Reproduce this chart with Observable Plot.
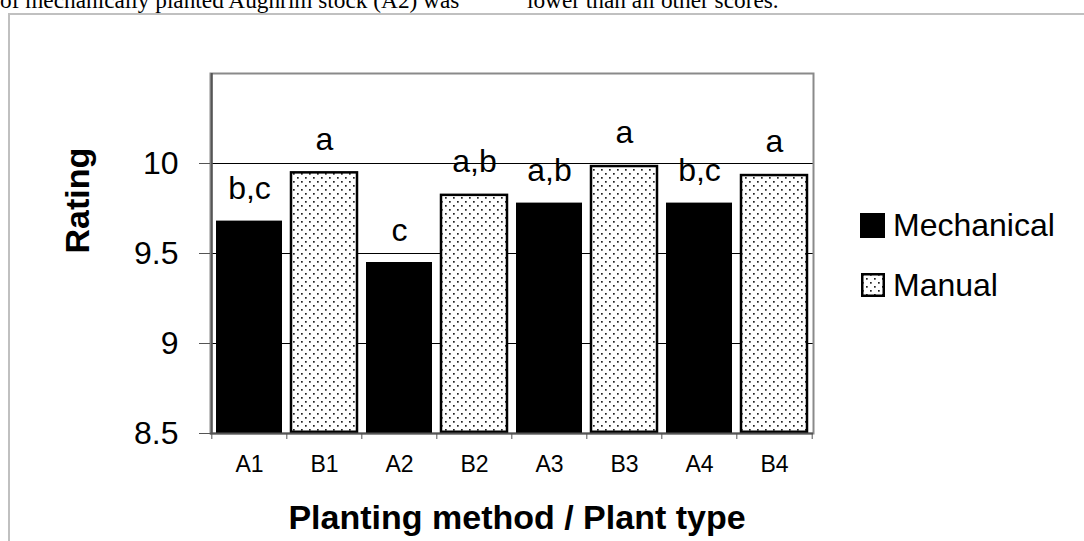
<!DOCTYPE html>
<html>
<head>
<meta charset="utf-8">
<script src="https://cdn.jsdelivr.net/npm/d3@7"></script>
<script src="https://cdn.jsdelivr.net/npm/@observablehq/plot@0.6"></script>
<style>
  html, body { margin: 0; padding: 0; background: #fff; }
  #page { position: relative; width: 1084px; height: 541px; overflow: hidden; background: #fff; }
  #toptext { position: absolute; top: -13px; left: 0; width: 1084px; font-family: "Liberation Serif", "Times New Roman", serif; font-size: 23.3px; color: #000; white-space: nowrap; }
  #toptext span { position: absolute; top: 0; }
  #border { position: absolute; left: 8px; top: 13px; width: 1200px; height: 700px; border: 2px solid #c0c0c0; box-sizing: border-box; }
  #chart { position: absolute; left: 0; top: 0; }
  .leg { position: absolute; font-family: "Liberation Sans", Arial, sans-serif; font-size: 32px; color: #000; line-height: 1; white-space: nowrap; }
</style>
</head>
<body>
<div id="page">
  <div id="toptext"><span style="left:0px">of mechanically planted Aughrim stock (A2) was</span><span style="left:527px">lower than all other scores.</span></div>
  <div id="border"></div>
  <div id="chart"></div>
  <div id="legend"></div>
</div>
<script>
// ---- data ----
const categories = ["A1", "B1", "A2", "B2", "A3", "B3", "A4", "B4"];
const methods = ["Mechanical", "Manual", "Mechanical", "Manual", "Mechanical", "Manual", "Mechanical", "Manual"];
const ratings = [9.68, 9.955, 9.45, 9.83, 9.78, 9.99, 9.78, 9.94];
const letters = ["b,c", "a", "c", "a,b", "a,b", "a", "b,c", "a"];
const seriesNames = ["Mechanical", "Manual"];
const yTicks = [8.5, 9, 9.5, 10];
const yDomain = [8.5, 10.5];
const yTitle = "Rating";
const xTitle = "Planting method / Plant type";

const data = categories.map((c, i) => ({cat: c, method: methods[i], rating: ratings[i], letter: letters[i]}));

// ---- layout ----
const W = 1084, H = 541;
const mL = 210, mR = 271, mT = 73, mB = 108;
const step = (W - mL - mR) / categories.length;
const base = yDomain[0];

const font = "'Liberation Sans', Arial, sans-serif";

const svg = Plot.plot({
  width: W, height: H,
  marginLeft: mL, marginRight: mR, marginTop: mT, marginBottom: mB,
  style: {fontFamily: font, background: "transparent", color: "#000", overflow: "visible"},
  x: {domain: categories, paddingInner: 0.12, paddingOuter: 0.06, label: null},
  y: {domain: yDomain, label: null},
  marks: [
    // gridlines
    Plot.ruleY(yTicks.slice(1), {stroke: "#000", strokeWidth: 1}),
    // plot area border (top/right)
    Plot.frame({stroke: "#8a8a8a", strokeWidth: 2}),
    // bars
    Plot.barY(data.filter(d => d.method === seriesNames[0]), {x: "cat", y1: base, y2: "rating", fill: "#000"}),
    Plot.barY(data.filter(d => d.method === seriesNames[1]), {x: "cat", y1: base, y2: "rating", fill: "url(#dots)", stroke: "#000", strokeWidth: 2.5, insetTop: 1.25, insetBottom: 1.25}),
    // value letters
    Plot.text(data, {x: "cat", y: "rating", text: "letter", lineAnchor: "bottom", dy: -22, fontSize: 32, fill: "#000"}),
    // axis lines
    Plot.ruleY([base], {stroke: "#555", strokeWidth: 2}),
    Plot.ruleX([categories[0]], {y1: yDomain[0], y2: yDomain[1], dx: -step / 2, stroke: "#555", strokeWidth: 2}),
    // y ticks
    Plot.axisY({ticks: yTicks, tickSize: 11, tickPadding: 21, fontSize: 32, tickFormat: d => String(d), stroke: "#555", label: null}),
    // x ticks at band boundaries
    Plot.ruleX(categories, {x: d => d, y1: base, y2: base, dx: -step / 2, insetBottom: -6, stroke: "#555", strokeWidth: 1}),
    Plot.ruleX([categories[categories.length - 1]], {y1: base, y2: base, dx: step / 2, insetBottom: -6, stroke: "#555", strokeWidth: 1}),
    // x tick labels
    Plot.axisX({tickSize: 0, tickPadding: 22, fontSize: 23, label: null}),
    // axis titles
    Plot.text([yTitle], {frameAnchor: "left", dx: -132, rotate: -90, fontSize: 34, fontWeight: "bold", fill: "#000"}),
    Plot.text([xTitle], {frameAnchor: "bottom", dx: 5, dy: 95, fontSize: 34, fontWeight: "bold", fill: "#000"})
  ]
});

svg.insertAdjacentHTML("afterbegin",
  `<defs><pattern id="dots" patternUnits="userSpaceOnUse" width="8" height="8">
     <rect width="8" height="8" fill="#fff"/>
     <rect x="1" y="1" width="1.7" height="1.7" fill="#222"/>
     <rect x="5" y="5" width="1.7" height="1.7" fill="#222"/>
   </pattern></defs>`);
document.getElementById("chart").appendChild(svg);

// ---- legend ----
const legend = document.getElementById("legend");
const legendRows = [
  {name: seriesNames[0], top: 213, swatch: `<svg width="25" height="25" style="position:absolute;left:860px;top:213px"><rect width="25" height="25" fill="#000"/></svg>`},
  {name: seriesNames[1], top: 273, swatch: `<svg width="24" height="24" style="position:absolute;left:861px;top:273px"><rect x="1.25" y="1.25" width="21.5" height="21.5" fill="url(#dots)" stroke="#000" stroke-width="2.5"/></svg>`}
];
legendRows.forEach(r => {
  legend.insertAdjacentHTML("beforeend", r.swatch);
  const t = document.createElement("div");
  t.className = "leg";
  t.textContent = r.name;
  t.style.left = "893px";
  t.style.top = (r.top - 4) + "px";
  legend.appendChild(t);
});
</script>
</body>
</html>
